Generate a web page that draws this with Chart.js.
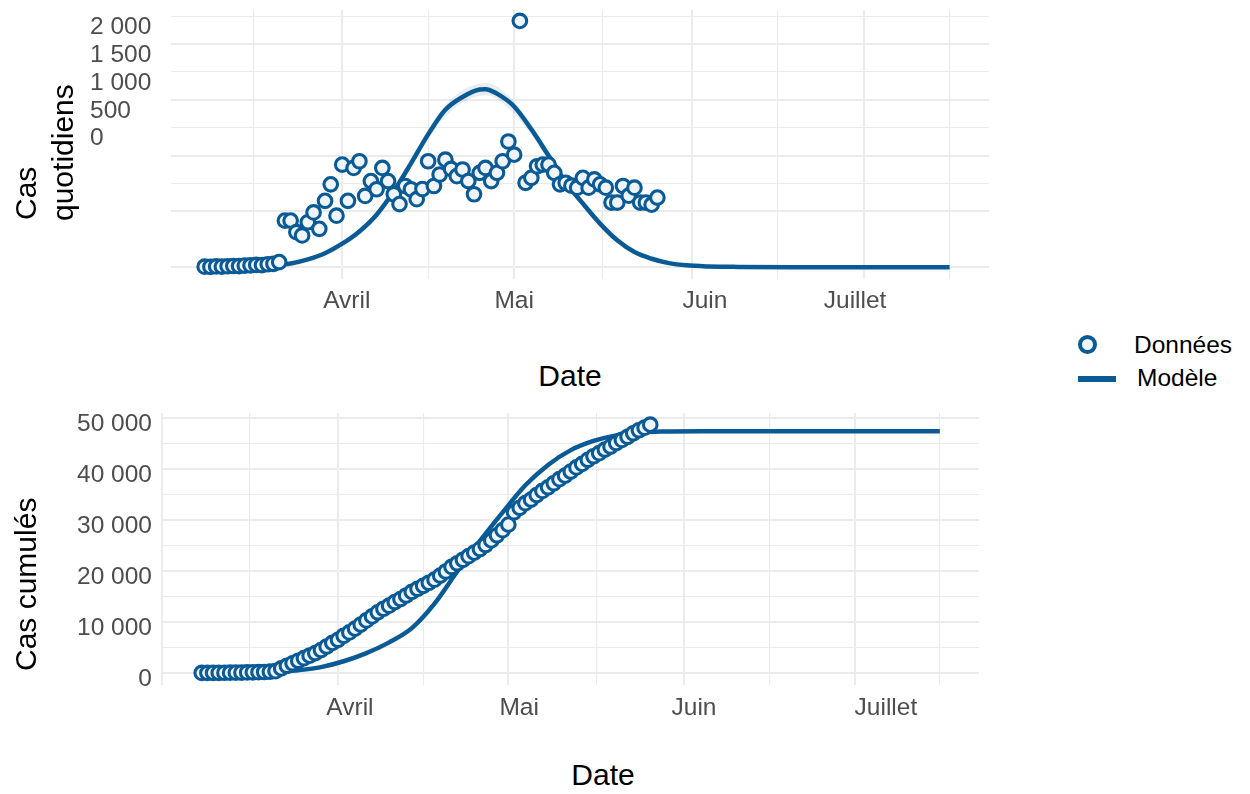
<!DOCTYPE html>
<html><head><meta charset="utf-8">
<script src="https://cdn.jsdelivr.net/npm/chart.js@4.4.1/dist/chart.umd.min.js"></script>
<style>
html,body{margin:0;padding:0;background:#fff;}
#wrap{position:relative;width:1250px;height:794px;overflow:hidden;font-family:'Liberation Sans',Arial,Helvetica,sans-serif;background:#fff;}
canvas{position:absolute;}
.t{position:absolute;white-space:nowrap;color:#000;font-size:30px;line-height:30px;}
.rot{transform-origin:0 0;transform:rotate(-90deg);}
.cx{transform:translateX(-50%);}
.lg{position:absolute;white-space:nowrap;color:#000;font-size:24.5px;line-height:24px;}
</style></head><body>
<div id="wrap">
<canvas id="topChart" width="1000" height="320" style="left:0;top:0"></canvas>
<canvas id="botChart" width="1000" height="320" style="left:0;top:400px"></canvas>
<div class="t rot" style="left:11px;top:220px">Cas</div>
<div class="t rot" style="left:48px;top:221px">quotidiens</div>
<div class="t rot" style="left:11px;top:671px">Cas cumulés</div>
<div class="t cx" style="left:570px;top:361px">Date</div>
<div class="t cx" style="left:603px;top:760px">Date</div>
<div style="position:absolute;left:1078px;top:335px;width:19px;height:19px;box-sizing:border-box;border:4px solid #0a5a96;border-radius:50%;background:#eef4f9;"></div>
<div style="position:absolute;left:1078px;top:376px;width:38px;height:6px;background:#0a5a96;"></div>
<div class="lg" style="left:1134px;top:333px">Données</div>
<div class="lg" style="left:1137px;top:366px">Modèle</div>
</div>
<script>
// ---- data (day number: 0 = 1 March) ----
const dailyDays = [7,8,9,10,11,12,13,14,15,16,17,18,19,20,21,22,23,24,25,26,27,28,29,30,31,32,33,34,35,36,37,38,39,40,41,42,43,44,45,46,47,48,49,50,51,52,53,54,55,56,57,58,59,60,61,62,63,64,65,66,67,68,69,70,71,72,73,74,75,76,77,78,79,80,81,82,83,84,85,86];
const dailyCases = [4,3,6,5,8,10,9,14,16,20,18,26,30,45,
  417,417,313,284,402,490,343,594,742,461,
  919,594,889,949,638,771,698,889,771,653,
  565,727,698,609,700,949,727,830,963,880,
  815,875,771,653,845,889,771,845,949,1126,
  1008,2207,756,800,904,919,919,845,742,756,
  730,712,800,712,786,742,712,579,579,727,
  640,712,579,579,560,623];
const cumulativeCases = [10,20,30,40,50,60,75,90,110,130,160,200,250,350,
  900,1400,1900,2400,2900,3400,3900,4500,5200,5900,
  6500,7300,7950,8700,9500,10300,11100,11900,12600,13200,
  13900,14500,15200,15900,16500,17100,17700,18300,19100,19900,
  20800,21500,22200,22900,23600,24300,25100,26000,27000,28000,
  29100,31500,32400,33300,34000,34900,35700,36400,37200,38000,
  38700,39500,40300,41000,41800,42500,43100,43800,44400,45100,
  45700,46300,47000,47600,48100,48700];
const dailyModelDays = [20,22,25,28,31,34,37,40,43,46,49,52,55,56,58,61,64,67,70,73,76,79,82,85,88,91,95,100,110,137];
const dailyModel = [20,33,70,125,210,320,470,680,930,1190,1410,1525,1592,1595,1555,1440,1235,1000,760,570,390,240,135,75,36,16,6,2,0,0];
const ribbonDays = [36,40,44,48,52,56,60,64,68,72,76];
const ribbonUpper = [430,700,1060,1390,1585,1650,1540,1280,960,660,400];
const ribbonLower = [410,660,990,1290,1475,1540,1425,1185,885,620,380];
const cumModelDays = [20,24,28,32,36,40,44,48,52,56,60,64,68,72,76,80,84,88,95,137];
const cumModel = [200,550,1150,2300,3900,6000,8800,13600,19900,25900,31500,36800,40800,43700,45500,46600,47150,47350,47400,47400];

// ---- axis ticks / labels ----
const monthNames = ['Avril','Mai','Juin','Juillet'];
const monthLabelDaysTop = [31.8,61,94.3,120.5];
const monthLabelDaysBottom = [33.1,62.9,93.7,127.5];
const xMajorDays = [0,31,61,92,122];
const xMinorDays = [15.5,46,76.5,107,137];
const topYGrid = [0,250,500,750,1000,1250,1500,1750,2000,2250];
const topYMajor = [0,500,1000,1500,2000];
const topYHidden = [250];
const topYLabels = ['2 000','1 500','1 000','500','0'];
const botYGrid = [0,5000,10000,15000,20000,25000,30000,35000,40000,45000,50000];
const botYMajor = [0,10000,20000,30000,40000,50000];
const botYLabels = ['0','10 000','20 000','30 000','40 000','50 000'];

// ---- styles ----
const FONT = "'Liberation Sans', Arial, Helvetica, sans-serif";
const BLUE = '#0a5a96';
const PFILL = '#eef4f9';
const GRID = '#ebebeb';
const TICKC = '#4d4d4d';
const NONE = 'rgba(0,0,0,0)';
Chart.defaults.font.family = FONT;

function zeroPad(s){ s.paddingTop=0; s.paddingBottom=0; s.paddingLeft=0; s.paddingRight=0; }

function xAxis(min, max, labelDays, pad){
  const gridSet = new Set([...xMajorDays, ...xMinorDays]);
  const majorSet = new Set(xMajorDays);
  const labelMap = new Map(labelDays.map((d,i)=>[d, monthNames[i]]));
  return {
    type:'linear', min, max, position:'bottom',
    border:{display:false},
    grid:{drawTicks:false,
      color:c=> (c.tick && gridSet.has(c.tick.value)) ? GRID : NONE,
      lineWidth:c=> (c.tick && majorSet.has(c.tick.value)) ? 2 : 1.1},
    afterBuildTicks:s=>{
      const vals=[...new Set([...xMajorDays,...xMinorDays,...labelDays])].filter(v=>v>=min&&v<=max).sort((a,b)=>a-b);
      s.ticks = vals.map(v=>({value:v}));
    },
    afterFit:s=>{ s.height = 30; zeroPad(s); },
    ticks:{autoSkip:false, maxRotation:0, minRotation:0, padding:pad, color:TICKC,
      font:{family:FONT,size:24.5},
      callback:v=> labelMap.has(v) ? labelMap.get(v) : ''}
  };
}

const pts = (xs, ys) => xs.map((x,i)=>({x, y:ys[i]}));

const common = {
  responsive:false, animation:false, devicePixelRatio:1, events:[],
  plugins:{legend:{display:false}, tooltip:{enabled:false}}
};

new Chart(document.getElementById('topChart'), {
  type:'scatter',
  data:{datasets:[
    {type:'scatter', data:pts(dailyDays,dailyCases), pointRadius:6.8, pointBorderWidth:3.1,
     pointBackgroundColor:PFILL, pointBorderColor:BLUE, order:0},
    {type:'line', data:pts(ribbonDays,ribbonLower), borderColor:NONE, borderWidth:1, pointRadius:0,
     fill:false, cubicInterpolationMode:'monotone', order:3},
    {type:'line', data:pts(ribbonDays,ribbonUpper), borderColor:NONE, borderWidth:1, pointRadius:0,
     backgroundColor:'rgba(10,90,150,0.10)', fill:'-1', cubicInterpolationMode:'monotone', order:2},
    {type:'line', data:pts(dailyModelDays,dailyModel), borderColor:BLUE, borderWidth:4.5, pointRadius:0,
     fill:false, cubicInterpolationMode:'monotone', order:1}
  ]},
  options:Object.assign({}, common, {
    layout:{padding:{left:90, top:7, right:11, bottom:11}},
    scales:{
      x: xAxis(1.12, 143.87, monthLabelDaysTop, 8),
      y: {type:'linear', min:-106.4, max:2305.4, border:{display:false},
        grid:{drawTicks:false,
          color:c=> (c.tick && topYHidden.includes(c.tick.value)) ? NONE : GRID,
          lineWidth:c=> (c.tick && topYMajor.includes(c.tick.value)) ? 2 : 1.1},
        afterBuildTicks:s=>{ s.ticks = topYGrid.map(v=>({value:v})); },
        afterFit:s=>{ s.width = 81; zeroPad(s); },
        ticks:{autoSkip:false, crossAlign:'far', labelOffset:11, padding:0, color:TICKC,
          font:{family:FONT,size:24.5},
          callback:(v,i,t)=> topYLabels[t.length-1-i] !== undefined ? topYLabels[t.length-1-i] : ''}
      }
    }
  })
});

new Chart(document.getElementById('botChart'), {
  type:'scatter',
  data:{datasets:[
    {type:'scatter', data:pts(dailyDays,cumulativeCases), pointRadius:6.8, pointBorderWidth:3.1,
     pointBackgroundColor:PFILL, pointBorderColor:BLUE, order:0},
    {type:'line', data:pts(cumModelDays,cumModel), borderColor:BLUE, borderWidth:4.5, pointRadius:0,
     fill:false, cubicInterpolationMode:'monotone', order:1}
  ]},
  options:Object.assign({}, common, {
    layout:{padding:{left:0, top:13, right:21, bottom:5}},
    scales:{
      x: xAxis(0, 143.9, monthLabelDaysBottom, 9),
      y: {type:'linear', min:-2353, max:50980, border:{display:false},
        grid:{drawTicks:false, color:GRID,
          lineWidth:c=> (c.tick && botYMajor.includes(c.tick.value)) ? 2 : 1.1},
        afterBuildTicks:s=>{ s.ticks = botYGrid.map(v=>({value:v})); },
        afterFit:s=>{ s.width = 162; zeroPad(s); },
        ticks:{autoSkip:false, labelOffset:6, padding:10, color:TICKC,
          font:{family:FONT,size:24.5},
          callback:v=>{ const k = botYMajor.indexOf(v); return k>=0 ? botYLabels[k] : ''; }}
      }
    }
  })
});
</script>
</body></html>
